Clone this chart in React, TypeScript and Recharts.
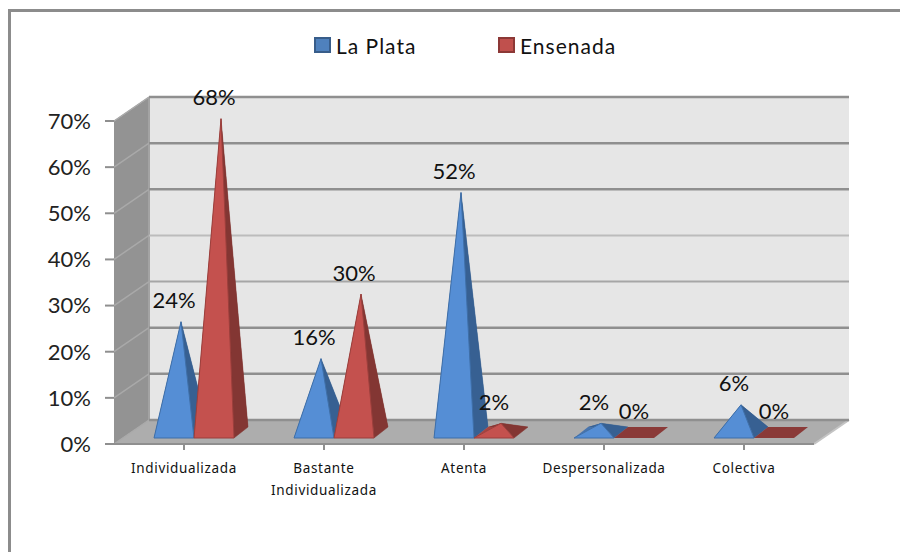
import React from 'react';
import { BarChart, Bar, XAxis, YAxis, CartesianGrid, Legend, LabelList } from 'recharts';

const categories = ['Individualizada', 'Bastante Individualizada', 'Atenta', 'Despersonalizada', 'Colectiva'];
const laPlata = [24, 16, 52, 2, 6];
const ensenada = [68, 30, 2, 0, 0];
const yTicks = [0, 10, 20, 30, 40, 50, 60, 70];
const seriesNames = ['La Plata', 'Ensenada'];

const data = categories.map((name, i) => ({ name, laPlata: laPlata[i], ensenada: ensenada[i] }));

const FONT = 'Lato, "Open Sans", sans-serif';
const LEFT = 114;
const RIGHT = 814;
const TOP = 121;
const BASE = 444;
const DX = 35;
const DY = 24;

const BLUE = { front: '#558ed5', side: '#376092', left: '#4874ad', edge: '#3f6fa8', flat: '#376092' };
const RED = { front: '#c4514e', side: '#833633', left: '#a84440', edge: '#9b3f3c', flat: '#8a3a38' };

function pyramid(c: typeof BLUE) {
  return (p: any) => {
    const { x, width, y, height } = p;
    const l = x + 10;
    const r = l + width;
    const fy = y + height - 6;
    const by = fy - 11;
    const depth = 14;
    const cx = (l + r) / 2 + depth / 2;
    const ay = y - 11.5;
    const pts = (a: number[][]) => a.map((q) => q.join(',')).join(' ');
    if (height < 0.5) {
      return (
        <polygon
          points={pts([[l, fy], [r, fy], [r + depth, by], [l + depth, by]])}
          fill={c.flat}
        />
      );
    }
    return (
      <g>
        <polygon points={pts([[l, fy], [l + depth, by], [cx, ay]])} fill={c.left} />
        <polygon points={pts([[l + depth, by], [r + depth, by], [cx, ay]])} fill={c.side} />
        <polygon points={pts([[r, fy], [r + depth, by], [cx, ay]])} fill={c.side} stroke={c.side} strokeWidth={0.5} />
        <polygon points={pts([[l, fy], [r, fy], [cx, ay]])} fill={c.front} stroke={c.edge} strokeWidth={1} />
      </g>
    );
  };
}

const labelContent = (p: any) => {
  const { x, y, width, value } = p;
  return (
    <text x={x + width / 2 + 10} y={y - 11.5 - 22} textAnchor="middle" dominantBaseline="central" fontFamily={FONT} fontSize={22} fill="#111">
      {`${value}%`}
    </text>
  );
};

const Walls = () => (
  <svg width={900} height={552} style={{ position: 'absolute', left: 0, top: 0 }}>
    <polygon points={`${LEFT},${TOP} ${LEFT + DX},${TOP - DY} ${LEFT + DX},${BASE - DY} ${LEFT},${BASE}`} fill="#939393" />
    <polygon points={`${LEFT + DX},${TOP - DY} ${RIGHT + DX},${TOP - DY} ${RIGHT + DX},${BASE - DY} ${LEFT + DX},${BASE - DY}`} fill="#e6e6e6" />
    <polygon points={`${LEFT},${BASE} ${LEFT + DX},${BASE - DY} ${RIGHT + DX},${BASE - DY} ${RIGHT},${BASE}`} fill="#adadad" />
    <line x1={LEFT + DX} y1={TOP - DY} x2={LEFT + DX} y2={BASE - DY} stroke="#a3a3a3" strokeWidth={2} />
    <line x1={RIGHT} y1={BASE} x2={RIGHT + DX} y2={BASE - DY} stroke="#c4c4c4" strokeWidth={2} />
    <line x1={LEFT} y1={TOP} x2={LEFT + DX} y2={TOP - DY} stroke="#bdbdbd" strokeWidth={1} />
  </svg>
);

const gridLine = (p: any) => {
  const { x1, x2, y1 } = p;
  const level = Math.round(((BASE - y1) / (BASE - TOP)) * 7);
  const stroke = level === 4 ? '#bcbcbc' : level === 3 ? '#a6a6a6' : '#8f8f8f';
  return (
    <g key={y1}>
      <line x1={x1} y1={y1} x2={x1 + DX} y2={y1 - DY} stroke="#a9a9a9" strokeWidth={1.5} />
      <line x1={x1 + DX} y1={y1 - DY} x2={x2 + DX} y2={y1 - DY} stroke={stroke} strokeWidth={level === 4 || level === 3 ? 2 : 2.5} />
    </g>
  );
};

const CategoryTick = (p: any) => {
  const { x, y, payload } = p;
  const words = String(payload.value).split(' ');
  return (
    <text x={x} textAnchor="middle" fontFamily={'"Noto Sans", sans-serif'} fontSize={13.5} letterSpacing={0.65} fill="#111">
      {words.map((w, i) => (
        <tspan key={w} x={x} y={y + 21 + i * 22}>{w}</tspan>
      ))}
    </text>
  );
};

const LegendContent = () => (
  <div style={{ position: 'relative', width: 900, height: 0, fontFamily: FONT, fontSize: 21, color: '#111' }}>
    {seriesNames.map((n, i) => (
      <div key={n} style={{ position: 'absolute', left: i === 0 ? 314 : 498, top: 0, display: 'flex', alignItems: 'center', height: 30 }}>
        <span style={{ boxSizing: 'border-box', width: 17, height: 16, background: i === 0 ? '#4f81bd' : '#c0504d', border: `2px solid ${i === 0 ? '#385d8a' : '#8c3836'}`, display: 'inline-block' }} />
        <span style={{ marginLeft: 5, letterSpacing: 1 }}>{n}</span>
      </div>
    ))}
  </div>
);

export default function App() {
  return (
    <div style={{ position: 'absolute', left: 0, top: 0, width: 900, height: 552, background: '#fff', overflow: 'hidden' }}>
      <div style={{ position: 'absolute', left: 8, top: 9, width: 892, height: 543, boxSizing: 'border-box', borderTop: '3px solid #8c8c8c', borderLeft: '3px solid #8c8c8c' }} />
      <Walls />
      <BarChart
        width={900}
        height={552}
        data={data}
        barSize={40}
        barGap={0}
        margin={{ left: LEFT - 60, right: 900 - RIGHT, top: TOP, bottom: 552 - BASE - 40 }}
      >
        <CartesianGrid horizontal={gridLine} vertical={false} />
        <XAxis
          dataKey="name"
          height={40}
          tick={<CategoryTick />}
          interval={0}
          axisLine={{ stroke: '#8f8f8f', strokeWidth: 2 }}
          tickLine={{ stroke: '#8f8f8f', strokeWidth: 2 }}
          tickSize={6}
        />
        <YAxis
          width={60}
          domain={[0, 70]}
          ticks={yTicks}
          tickFormatter={(v: number) => `${v}%`}
          tick={{ fontFamily: FONT, fontSize: 22, fill: '#222' }}
          axisLine={false}
          tickLine={{ stroke: '#8f8f8f', strokeWidth: 2 }}
          tickSize={9}
          tickMargin={14}
        />
        <Legend layout="vertical" align="center" verticalAlign="top" content={<LegendContent />} wrapperStyle={{ position: 'absolute', left: 0, top: 30, width: 900 }} />
        <Bar dataKey="laPlata" name="La Plata" isAnimationActive={false} shape={pyramid(BLUE)}>
          <LabelList dataKey="laPlata" content={labelContent} />
        </Bar>
        <Bar dataKey="ensenada" name="Ensenada" isAnimationActive={false} shape={pyramid(RED)}>
          <LabelList dataKey="ensenada" content={labelContent} />
        </Bar>
      </BarChart>
    </div>
  );
}
